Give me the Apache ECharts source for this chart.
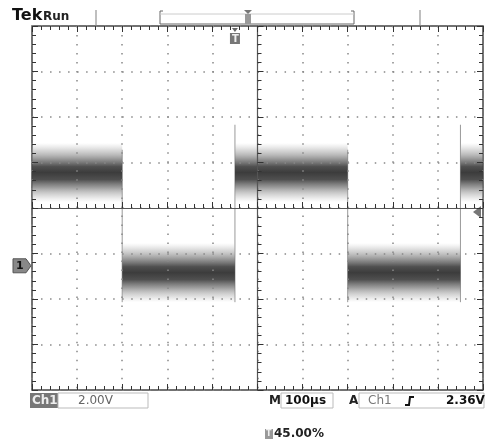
<!DOCTYPE html>
<html>
<head>
<meta charset="utf-8">
<title>Tek Run - Ch1</title>
<script src="https://cdn.jsdelivr.net/npm/echarts@6/dist/echarts.min.js"></script>
<style>
  html, body { margin: 0; padding: 0; background: #fff; }
  #chart { width: 488px; height: 444px; }
</style>
</head>
<body>
<div id="chart"></div>
<script>
// scope settings
const VOLTS_PER_DIV = 2.0
const US_PER_DIV = 100
const GROUND_DIV = -1.27      // ch1 ground marker, divisions from centre
const TRIGGER_TIME = -50      // µs from screen centre (45.00%)
const TRIGGER_LEVEL = 2.36    // V

// flat parts of the square wave (µs from screen centre): start, end, level V
const segStart = [-500, -300, -50, 200, 450]
const segEnd = [-300, -50, 200, 450, 500]
const segLevel = [4.1, -0.3, 4.1, -0.3, 4.1]
const NOISE_SPREAD = 1.3      // V, half height of the noisy band

// edge traces: time µs, top V, bottom V
const edgeTime = [-300, -50, 200, 450]
const edgeTop = [5.1, 6.2, 5.1, 6.2]
const edgeBottom = [-1.6, -1.6, -1.6, -1.6]

// readouts
const chLabel = 'Ch1'
const chScale = '2.00V'
const timeScale = '100µs'
const trigLevelText = '2.36V'
const trigPosText = '45.00%'

const toDiv = v => GROUND_DIV + v / VOLTS_PER_DIV

const scopeChart = echarts.init(document.getElementById('chart'))

const GRID = { left: 32, top: 26, width: 451, height: 364 }
const TICK_COLOR = '#333'

// one axis of the graticule (border or centre cross)
function scaleAxis(dim, position, extra) {
  const base = dim === 'x'
    ? { min: -5 * US_PER_DIV, max: 5 * US_PER_DIV, interval: US_PER_DIV }
    : { min: -4, max: 4, interval: 1 }
  return Object.assign({
    type: 'value',
    position: position,
    z: 5,
    axisLine: { show: false, onZero: false },
    axisTick: { show: true, inside: true, length: 6, lineStyle: { color: TICK_COLOR, width: 1 } },
    minorTick: { show: true, splitNumber: 5, length: 4, lineStyle: { color: TICK_COLOR, width: 1 } },
    axisLabel: { show: false },
    splitLine: { show: false }
  }, base, extra)
}

const dotLine = { show: true, lineStyle: { color: '#888', width: 1.5, type: [1.5, 7.52] } }
const centreLine = { show: true, onZero: true, onZeroAxisIndex: 0, lineStyle: { color: '#555', width: 1.2 } }

scopeChart.setOption({
  animation: false,
  backgroundColor: '#fff',
  grid: Object.assign({ show: true, borderColor: '#444', borderWidth: 1.5 }, GRID),
  xAxis: [
    scaleAxis('x', 'bottom', { splitLine: dotLine }),
    scaleAxis('x', 'top'),
    scaleAxis('x', 'bottom', { axisLine: centreLine })
  ],
  yAxis: [
    scaleAxis('y', 'left', { splitLine: dotLine }),
    scaleAxis('y', 'right'),
    scaleAxis('y', 'left', { axisLine: centreLine })
  ],
  series: [
    {
      // edge traces
      type: 'custom',
      clip: true,
      data: edgeTime.map((t, i) => [t, edgeTop[i], edgeBottom[i]]),
      renderItem: function (params, api) {
        const p1 = api.coord([api.value(0), toDiv(api.value(1))])
        const p2 = api.coord([api.value(0), toDiv(api.value(2))])
        return {
          type: 'line',
          shape: { x1: p1[0], y1: p1[1], x2: p2[0], y2: p2[1] },
          style: { stroke: '#999', lineWidth: 1 }
        }
      }
    },
    {
      // noisy levels
      type: 'custom',
      clip: true,
      data: segStart.map((s, i) => [s, segEnd[i], segLevel[i]]),
      renderItem: function (params, api) {
        const lvl = api.value(2)
        const p1 = api.coord([api.value(0), toDiv(lvl + NOISE_SPREAD)])
        const p2 = api.coord([api.value(1), toDiv(lvl - NOISE_SPREAD)])
        return {
          type: 'rect',
          shape: { x: p1[0], y: p1[1], width: p2[0] - p1[0], height: p2[1] - p1[1] },
          style: {
            fill: new echarts.graphic.LinearGradient(0, 0, 0, 1, [
              { offset: 0, color: 'rgba(190,190,190,0)' },
              { offset: 0.12, color: 'rgba(170,170,170,0.45)' },
              { offset: 0.28, color: 'rgba(120,120,120,0.8)' },
              { offset: 0.4, color: 'rgba(70,70,70,0.95)' },
              { offset: 0.5, color: 'rgba(60,60,60,1)' },
              { offset: 0.62, color: 'rgba(70,70,70,0.95)' },
              { offset: 0.75, color: 'rgba(120,120,120,0.75)' },
              { offset: 0.9, color: 'rgba(175,175,175,0.4)' },
              { offset: 1, color: 'rgba(190,190,190,0)' }
            ])
          }
        }
      }
    }
  ]
})

// screen markers that follow the scales
const trigX = scopeChart.convertToPixel({ xAxisIndex: 0 }, TRIGGER_TIME)
const gndY = scopeChart.convertToPixel({ yAxisIndex: 0 }, GROUND_DIV)
const trigY = scopeChart.convertToPixel({ yAxisIndex: 0 }, toDiv(TRIGGER_LEVEL))

const FONT = '"DejaVu Sans", sans-serif'
const makeText = (x, y, text, size, weight, fill, va) => ({
  type: 'text', x: x, y: y,
  style: { text: text, font: weight + ' ' + size + 'px ' + FONT, fill: fill, textVerticalAlign: va || 'middle' }
})
const makeBox = (x, y, w, h, fill, stroke) => ({
  type: 'rect', shape: { x: x, y: y, width: w, height: h },
  style: { fill: fill, stroke: stroke, lineWidth: 1 }
})

scopeChart.setOption({
  graphic: [
    // header
    makeText(12, 24, 'Tek', 16, 'bold', '#111', 'bottom'),
    makeText(43, 23, 'Run', 12, 'bold', '#222', 'bottom'),
    { type: 'line', shape: { x1: 96, y1: 10, x2: 96, y2: 25 }, style: { stroke: '#aaa', lineWidth: 1.5 } },
    { type: 'line', shape: { x1: 420, y1: 10, x2: 420, y2: 25 }, style: { stroke: '#aaa', lineWidth: 1.5 } },
    { type: 'polyline', shape: { points: [[163, 11], [160, 11], [160, 24], [354, 24], [354, 11], [351, 11]] },
      style: { stroke: '#666', lineWidth: 1, fill: null } },
    { type: 'line', shape: { x1: 160, y1: 14, x2: 354, y2: 14 }, style: { stroke: '#ccc', lineWidth: 1 } },
    makeBox(245, 14, 6, 10, '#999', null),
    { type: 'polygon', shape: { points: [[244, 10], [252, 10], [248, 14]] }, style: { fill: '#777' } },

    // trigger position marker
    { type: 'polygon', shape: { points: [[trigX - 3, 28], [trigX + 3, 28], [trigX, 32]] }, style: { fill: '#666' } },
    makeBox(trigX - 5, 33, 10, 11, '#777', null),
    makeText(trigX - 3, 39, 'T', 10, 'bold', '#eee'),

    // ground marker
    { type: 'polygon', shape: { points: [[13, gndY - 7], [26, gndY - 7], [31, gndY], [26, gndY + 7], [13, gndY + 7]] },
      style: { fill: '#888', stroke: '#555', lineWidth: 1 } },
    makeText(16, gndY, '1', 11, 'bold', '#111'),

    // trigger level arrow
    { type: 'polygon', shape: { points: [[473, trigY], [481, trigY - 6], [481, trigY + 6]] }, style: { fill: '#777' } },

    // readouts
    makeBox(30, 393, 28, 15, '#777', null),
    makeText(32, 401, chLabel, 12, 'bold', '#eee'),
    makeBox(58, 393, 90, 15, '#fff', '#bbb'),
    makeText(78, 401, chScale, 12, 'normal', '#666'),
    makeText(269, 401, 'M', 12, 'bold', '#222'),
    makeBox(281, 393, 52, 15, '#fff', '#bbb'),
    makeText(285, 401, timeScale, 12, 'bold', '#111'),
    makeText(349, 401, 'A', 12, 'bold', '#222'),
    makeBox(359, 393, 125, 15, '#fff', '#bbb'),
    makeText(368, 401, chLabel, 12, 'normal', '#777'),
    { type: 'polyline', shape: { points: [[405, 405], [409, 405], [410, 397], [414, 397]] },
      style: { stroke: '#111', lineWidth: 2, fill: null } },
    makeText(446, 401, trigLevelText, 12, 'bold', '#111'),
    makeBox(265, 429, 8, 10, '#999', null),
    makeText(266, 434, 'T', 8, 'bold', '#eee'),
    makeText(274, 434, trigPosText, 12, 'bold', '#222')
  ]
})
</script>
</body>
</html>
